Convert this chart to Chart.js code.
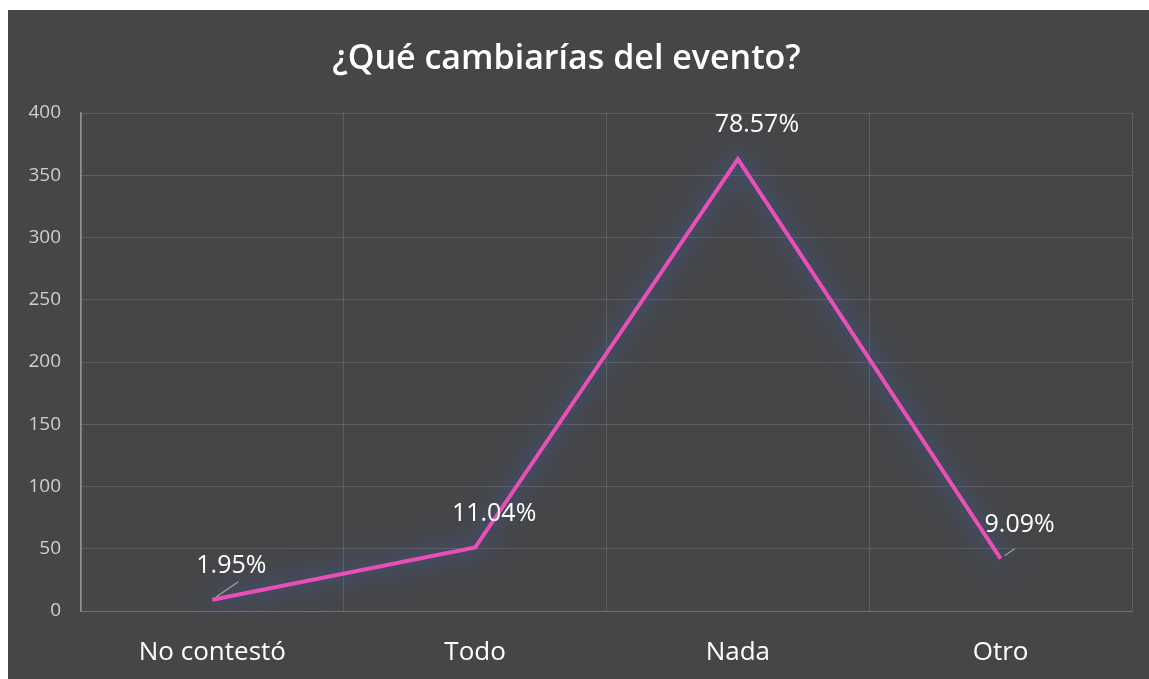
<!DOCTYPE html>
<html>
<head>
<meta charset="utf-8">
<script src="https://cdn.jsdelivr.net/npm/chart.js@4/dist/chart.umd.min.js"></script>
<style>
html,body{margin:0;padding:0;background:#fff;width:1149px;height:679px;overflow:hidden;}
#wrap{position:absolute;left:8px;top:10px;width:1141px;height:669px;background:#464649;}
canvas{display:block;}
</style>
</head>
<body>
<div id="wrap"><canvas id="c" width="1141" height="669"></canvas></div>
<script>
const chartTitle = "¿Qué cambiarías del evento?";
const categories = ["No contestó", "Todo", "Nada", "Otro"];
const values = [9, 51, 363, 42];
const percentLabels = ["1.95%", "11.04%", "78.57%", "9.09%"];
const yTicks = [0, 50, 100, 150, 200, 250, 300, 350, 400];

const titlePlugin = {
  id: 'customTitle',
  afterDraw(chart) {
    const ctx = chart.ctx;
    ctx.save();
    ctx.fillStyle = '#ffffff';
    ctx.font = '600 34px "Open Sans", sans-serif';
    ctx.textAlign = 'center';
    ctx.textBaseline = 'middle';
    ctx.fillText(chartTitle, chart.width / 2 - 12, 49);
    ctx.restore();
  }
};

const glowPlugin = {
  id: 'glow',
  beforeDatasetDraw(chart) {
    const ctx = chart.ctx;
    ctx.save();
    ctx.shadowColor = 'rgba(50,105,200,1)';
    ctx.shadowBlur = 24;
  },
  afterDatasetDraw(chart) {
    chart.ctx.restore();
  }
};

const labelPlugin = {
  id: 'pctLabels',
  afterDatasetsDraw(chart) {
    const ctx = chart.ctx;
    const meta = chart.getDatasetMeta(0);
    ctx.save();
    meta.data.forEach((pt, i) => {
      if (i === 0 || i === meta.data.length - 1) {
        ctx.strokeStyle = 'rgba(190,190,190,0.75)';
        ctx.lineWidth = 1.2;
        ctx.beginPath();
        ctx.moveTo(pt.x + 4, pt.y - 3);
        ctx.lineTo(pt.x + (i === 0 ? 26 : 14), pt.y - (i === 0 ? 18 : 10));
        ctx.stroke();
      }
      ctx.fillStyle = '#ffffff';
      ctx.font = '25px "Open Sans", sans-serif';
      ctx.textAlign = 'center';
      ctx.textBaseline = 'middle';
      ctx.fillText(percentLabels[i], pt.x + 19, pt.y - 34);
    });
    ctx.restore();
  }
};

new Chart(document.getElementById('c'), {
  type: 'line',
  data: {
    labels: categories,
    datasets: [{
      data: values,
      borderColor: '#ea4fb9',
      borderWidth: 4,
      pointRadius: 0,
      tension: 0,
      fill: false
    }]
  },
  options: {
    responsive: false,
    animation: false,
    layout: { padding: { top: 103, right: 17, bottom: 0, left: 0 } },
    plugins: { legend: { display: false }, tooltip: { enabled: false }, title: { display: false } },
    scales: {
      x: {
        offset: true,
        grid: { offset: true, color: 'rgba(255,255,255,0.13)', drawTicks: false },
        border: { color: 'rgba(255,255,255,0.13)' },
        ticks: { color: '#ffffff', font: { family: '"Open Sans", sans-serif', size: 26, weight: '500' }, padding: 26 },
        afterFit(scale) { scale.height = 68; }
      },
      y: {
        min: 0, max: 400,
        afterBuildTicks(scale) { scale.ticks = yTicks.map(v => ({ value: v })); },
        grid: { color: 'rgba(255,255,255,0.13)', drawTicks: false },
        border: { color: 'rgba(255,255,255,0.4)', width: 1.5 },
        ticks: { color: '#cfcfcf', font: { family: '"Open Sans", sans-serif', size: 19 }, padding: 20 },
        afterFit(scale) { scale.width = 73; }
      }
    }
  },
  plugins: [titlePlugin, glowPlugin, labelPlugin]
});
</script>
</body>
</html>
